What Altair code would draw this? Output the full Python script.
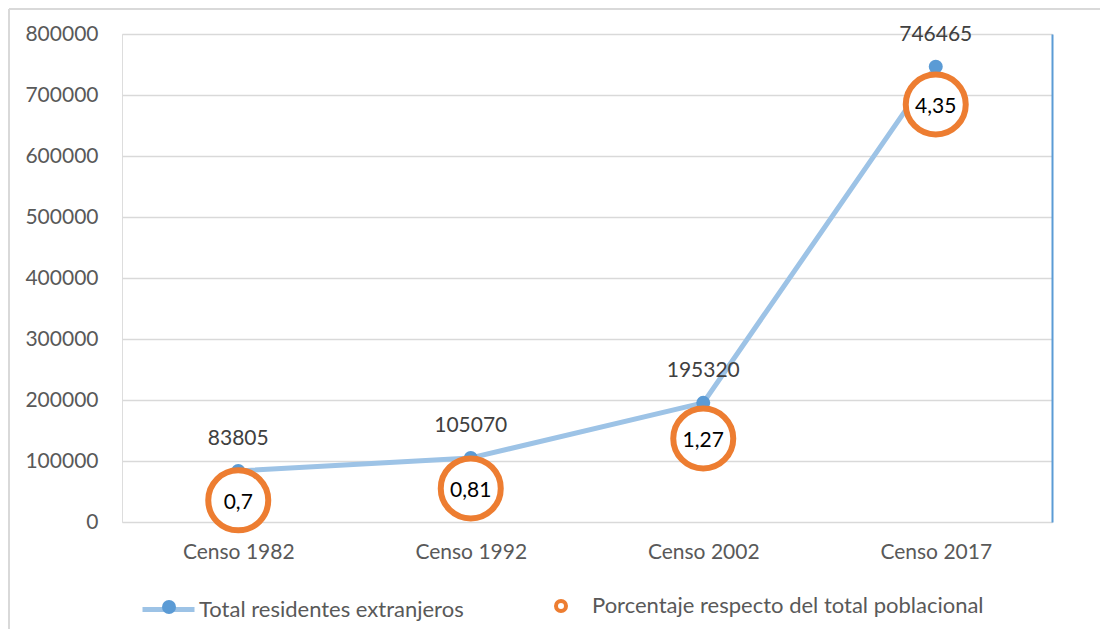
import altair as alt
import pandas as pd

censos = ["Censo 1982", "Censo 1992", "Censo 2002", "Censo 2017"]
total = [83805, 105070, 195320, 746465]
pct = [0.7, 0.81, 1.27, 4.35]
pct_labels = ["0,7", "0,81", "1,27", "4,35"]
y_ticks = [0, 100000, 200000, 300000, 400000, 500000, 600000, 700000, 800000]
serie_total = "Total residentes extranjeros"
serie_pct = "Porcentaje respecto del total poblacional"

df = pd.DataFrame({
    "censo": censos,
    "total": total,
    "pct": pct,
    "pct_label": pct_labels,
    "s1": serie_total,
    "dot": " ",
    "s2": serie_pct,
})

FONT = "Lato"
GREY = "#595959"

x = alt.X("censo:N", sort=censos, scale=alt.Scale(type="point", padding=0.5),
          axis=alt.Axis(title=None, labelAngle=0, domain=False, ticks=False, labelPadding=19,
                        labelFontSize=21, labelColor=GREY, labelFont=FONT))

y_total = alt.Y("total:Q", scale=alt.Scale(domain=[0, 800000], nice=False),
                axis=alt.Axis(title=None, values=y_ticks, format="d", domain=False, ticks=False,
                              labelPadding=24, grid=True, gridColor="#D9D9D9", gridWidth=1.5,
                              labelFontSize=21, labelColor=GREY, labelFont=FONT))

y_pct = alt.Y("pct:Q", scale=alt.Scale(domain=[0.5, 5], zero=False, nice=False),
              axis=alt.Axis(orient="right", title=None, labels=False, ticks=False, grid=False,
                            domain=True, domainColor="#5B9BD5", domainWidth=2))

base = alt.Chart(df)

line = base.mark_line(interpolate="linear", strokeWidth=5, strokeCap="round",
                      strokeJoin="round").encode(
    x=x, y=y_total,
    stroke=alt.Stroke("s1:N", scale=alt.Scale(domain=[serie_total], range=["#9DC3E6"]),
                      legend=alt.Legend(title=None, orient="none", legendX=18, legendY=547,
                                        symbolType="stroke", symbolSize=2704, symbolStrokeWidth=5,
                                        labelFontSize=22, labelColor=GREY, labelFont=FONT,
                                        labelOffset=2, labelLimit=0, zindex=1)))

pts = base.mark_circle(size=196, opacity=1).encode(
    x=x, y=y_total,
    fill=alt.Fill("dot:N", scale=alt.Scale(domain=[" "], range=["#5B9BD5"]),
                  legend=alt.Legend(title=None, orient="none", legendX=40, legendY=566,
                                    symbolType="circle", symbolSize=196, symbolStrokeWidth=0,
                                    labelExpr="''", zindex=2)))

vlab = base.mark_text(dy=-32, fontSize=21, color="#404040", font=FONT).encode(
    x=x, y=y_total, text=alt.Text("total:Q", format="d"))

frame = alt.Chart(pd.DataFrame({"k": [0]}))
left_border = frame.mark_rule(color="#D9D9D9", strokeWidth=2).encode(
    x=alt.value(-113), y=alt.value(-25), y2=alt.value(595))
top_border = frame.mark_rule(color="#D9D9D9", strokeWidth=2).encode(
    x=alt.value(-113), x2=alt.value(978), y=alt.value(-25))

left = alt.layer(left_border, top_border, line, pts, vlab)

circ = base.mark_point(shape="circle", filled=False, fill="white", fillOpacity=1, strokeWidth=6,
                       size=3600, opacity=1).encode(
    x=x, y=y_pct,
    color=alt.Color("s2:N", scale=alt.Scale(domain=[serie_pct], range=["#ED7D31"]),
                    legend=alt.Legend(title=None, orient="none", legendX=428, legendY=561,
                                      symbolType="circle", symbolSize=100, symbolStrokeWidth=4,
                                      labelFontSize=22, labelColor=GREY, labelFont=FONT,
                                      labelOffset=20, labelLimit=0)))

plab = base.mark_text(dy=3, fontSize=21, color="black", font=FONT).encode(
    x=x, y=y_pct, text="pct_label:N")

right = alt.layer(circ, plab)

chart = alt.layer(left, right).resolve_scale(y="independent").properties(
    width=930, height=488, padding=0
).configure_view(stroke=None).configure(background="white")

chart.save("out.html", embed_options={"renderer": "svg", "actions": False})
